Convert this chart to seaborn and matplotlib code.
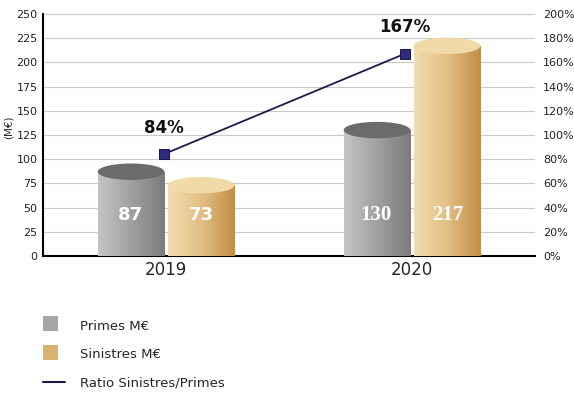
import matplotlib
matplotlib.use("Agg")
import matplotlib.pyplot as plt
import numpy as np
import pandas as pd
import seaborn as sns
from matplotlib.patches import Ellipse, Patch, Rectangle
from matplotlib.lines import Line2D
from matplotlib.legend_handler import HandlerPatch
from matplotlib.colors import LinearSegmentedColormap

years = ["2019", "2020"]
primes = [87, 130]
sinistres = [73, 217]
ratio = [84, 167]
series = ["Primes M€", "Sinistres M€"]

df = pd.DataFrame({
    "year": years * 2,
    "value": primes + sinistres,
    "serie": [series[0]] * 2 + [series[1]] * 2,
})

sns.set_style("white")
plt.rcParams["font.family"] = ["DejaVu Sans"]

fig = plt.figure(figsize=(5.74, 3.98), dpi=100)
ax = fig.add_axes([0.075, 0.357, 0.857, 0.608])

sns.barplot(data=df, x="year", y="value", hue="serie", order=years,
            hue_order=series, palette=["#a8a8a8", "#dcb878"],
            width=0.57, gap=0.05, legend=False, ax=ax, zorder=3)

# gradient fill + elliptic top to fake the cylinders
grey = LinearSegmentedColormap.from_list("g", ["#c4c4c4", "#a0a0a0", "#7c7c7c"])
gold = LinearSegmentedColormap.from_list("o", ["#f3dcae", "#e2bf84", "#c38e45"])
tops = {"g": "#6b6b6b", "o": "#f2d9a8"}
grad = np.linspace(0, 1, 100).reshape(1, -1)
bars = [p for p in ax.patches if isinstance(p, Rectangle) and p.get_height() > 0]
for p in bars:
    x0, w, h = p.get_x(), p.get_width(), p.get_height()
    is_grey = x0 + w / 2 < np.floor(x0 + w / 2 + 0.5)
    cmap, top = (grey, tops["g"]) if is_grey else (gold, tops["o"])
    p.set_facecolor("none")
    p.set_edgecolor("none")
    im = ax.imshow(grad, cmap=cmap, aspect="auto", extent=(x0, x0 + w, 0, h), zorder=3)
    im.set_clip_path(p)
    ax.add_patch(Ellipse((x0 + w / 2, h), w, 17, facecolor=top,
                         edgecolor="none", zorder=4))

# value labels inside the bars
for i, (a, b) in enumerate(zip(primes, sinistres)):
    fam = "DejaVu Sans" if i == 0 else "Liberation Serif"
    fs = 13 if i == 0 else 15
    ax.text(i - 0.145, 42, str(a), color="white", ha="center", va="center",
            fontsize=fs, fontweight="bold", family=fam, zorder=5)
    ax.text(i + 0.145, 42, str(b), color="white", ha="center", va="center",
            fontsize=fs, fontweight="bold", family=fam, zorder=5)

ax.set_xlim(-0.5, 1.5)
ax.set_ylim(0, 250)
ax.set_yticks(range(0, 251, 25))
ax.yaxis.grid(True, color="#c8c8c8", linewidth=0.8, zorder=0)
ax.set_axisbelow(True)
ax.tick_params(axis="y", labelsize=8, length=0, pad=4, labelcolor="#222222")
ax.tick_params(axis="x", labelsize=12, length=0, pad=4)
ax.set_xticks([0.5], minor=True)
ax.tick_params(axis="x", which="minor", length=6, width=1.2, color="black")
ax.set_xlabel("")
ax.set_ylabel("(M€)", fontsize=7.5, labelpad=2)
ax.yaxis.set_label_coords(-0.06, 0.53)
for s in ["top", "right"]:
    ax.spines[s].set_visible(False)
ax.spines["left"].set_linewidth(1.5)
ax.spines["bottom"].set_linewidth(1.5)
ax.spines["left"].set_color("black")
ax.spines["bottom"].set_color("black")

# ratio line on the right axis
ax2 = ax.twinx()
sns.lineplot(x=[-0.01, 0.97], y=ratio, ax=ax2, color="#1b1a4a", linewidth=1.3,
             marker="s", markersize=7, markerfacecolor="#2e2a7e",
             markeredgecolor="#1b1a4a")
for xi, r in zip([-0.01, 0.97], ratio):
    ax2.text(xi, r + 22, f"{r}%", ha="center", va="center", fontsize=12,
             fontweight="bold", color="#111111")
ax2.set_ylim(0, 200)
ax2.set_yticks(range(0, 201, 20))
ax2.set_yticklabels([f"{v}%" for v in range(0, 201, 20)])
ax2.tick_params(axis="y", labelsize=8, length=0, pad=6, labelcolor="#222222")
for s in ax2.spines.values():
    s.set_visible(False)
ax2.set_xlim(-0.5, 1.5)


class SquareHandler(HandlerPatch):
    def create_artists(self, legend, orig, xd, yd, width, height, fontsize, trans):
        r = Rectangle((xd, yd - 2), height + 2, height + 2,
                      facecolor=orig.get_facecolor(), edgecolor="none", transform=trans)
        return [r]


handles = [Patch(facecolor="#a6a6a6"), Patch(facecolor="#d9b36f"),
           Line2D([], [], color="#1b1a4a", linewidth=1.5)]
labels = ["Primes M€", "Sinistres M€", "Ratio Sinistres/Primes"]
fig.legend(handles, labels, loc="upper left", bbox_to_anchor=(0.055, 0.228),
           frameon=False, fontsize=9.5, handlelength=1.6, handleheight=1.0,
           handletextpad=1.2, labelspacing=1.15,
           handler_map={Patch: SquareHandler()})

fig.savefig("out.png", dpi=100)
